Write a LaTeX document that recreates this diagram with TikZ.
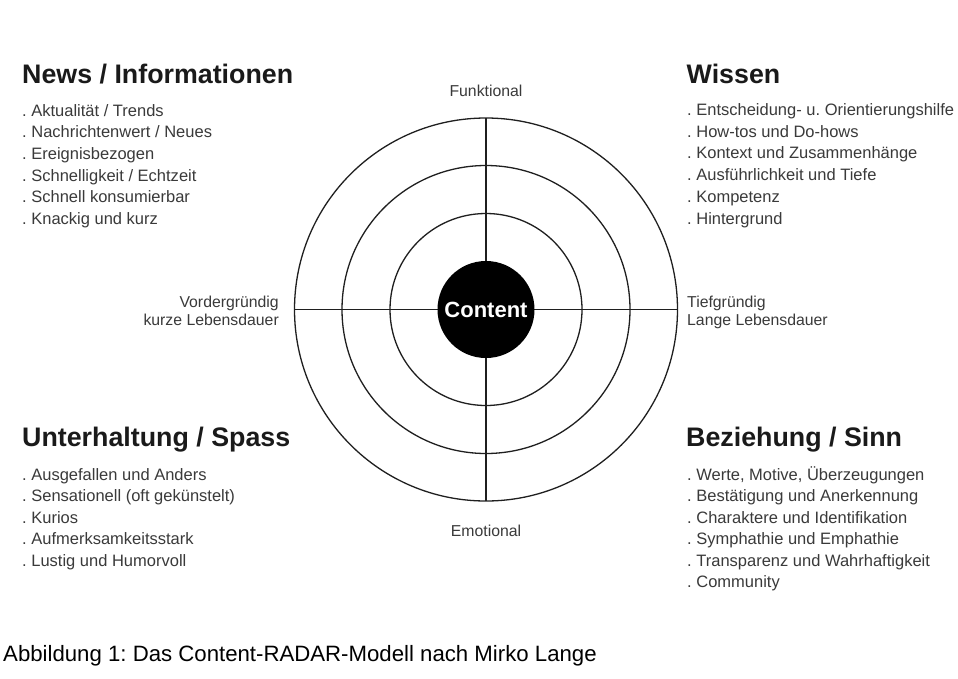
\documentclass[tikz,border=0pt]{standalone}
\usepackage{fontspec}
\setmainfont{Liberation Sans}
\frenchspacing
\definecolor{headtext}{HTML}{1A1A1A}
\definecolor{bodytext}{HTML}{3A3A3A}
\begin{document}
\begin{tikzpicture}[x=1pt,y=-1pt,
  heading/.style={anchor=base west, inner sep=0pt, text=headtext,
    font=\fontsize{26.8}{30}\selectfont\bfseries},
  item/.style={anchor=base west, inner sep=0pt, text=bodytext,
    font=\fontsize{16.5}{19}\selectfont},
  axislabel/.style={inner sep=0pt, text=bodytext,
    font=\fontsize{15.8}{19}\selectfont},
  ring/.style={circle, draw=black!88, line width=1.3pt, outer sep=0pt, inner sep=0pt},
  axis/.style={draw=black!88, line width=1.3pt}]
\useasboundingbox (0,0) rectangle (958,678);
\fill[white] (0,0) rectangle (958,678);

% radar rings and axes
\coordinate (c) at (486,309.5);
\node[ring, minimum size=383pt] (outer) at (c) {};
\node[ring, minimum size=288pt] (middle) at (c) {};
\node[ring, minimum size=192pt] (inner) at (c) {};
\draw[axis] (outer.north) -- (outer.south);
\draw[axis] (outer.west) -- (outer.east);
\node[circle, fill=black, minimum size=97pt, inner sep=0pt, text=white,
  font=\fontsize{22}{26}\selectfont\bfseries] (content) at (c) {Content};

% axis labels
\node[axislabel, anchor=base] (funk) at (486,96) {Funktional};
\node[axislabel, anchor=base] (emo) at (486,536) {Emotional};
\node[axislabel, anchor=base east] (vord1) at (279,307) {Vordergründig};
\node[axislabel, anchor=base east] (vord2) at (279,325.7) {kurze Lebensdauer};
\node[axislabel, anchor=base west] (tief1) at (687,307) {Tiefgründig};
\node[axislabel, anchor=base west] (tief2) at (687,325.7) {Lange Lebensdauer};

% News / Informationen
\node[heading] (nwhead) at (22,83) {News / Informationen};
\foreach \t [count=\i from 0] in {Aktualität / Trends, Nachrichtenwert / Neues,
    Ereignisbezogen, Schnelligkeit / Echtzeit, Schnell konsumierbar, Knackig und kurz}
  \node[item] (nw\i) at (22,116+21.7*\i) {. \t};

% Wissen
\node[heading] (nehead) at (686.5,83) {Wissen};
\foreach \t [count=\i from 0] in {Entscheidung- u. Orientierungshilfe, How-tos und Do-hows,
    Kontext und Zusammenhänge, Ausführlichkeit und Tiefe, Kompetenz, Hintergrund}
  \node[item] (ne\i) at (687,115.5+21.7*\i) {. \t};

% Unterhaltung / Spass
\node[heading] (swhead) at (22,446.7) {Unterhaltung / Spass};
\foreach \t [count=\i from 0] in {Ausgefallen und Anders, Sensationell (oft gekünstelt),
    Kurios, Aufmerksamkeitsstark, Lustig und Humorvoll}
  \node[item] (sw\i) at (22,480+21.6*\i) {. \t};

% Beziehung / Sinn
\node[heading] (sehead) at (686,446.7) {Beziehung / Sinn};
\foreach \t [count=\i from 0] in {{Werte, Motive, Überzeugungen}, Bestätigung und Anerkennung,
    Charaktere und Identifikation, Symphathie und Emphathie,
    Transparenz und Wahrhaftigkeit, Community}
  \node[item] (se\i) at (687,480.5+21.4*\i) {. \t};

% caption
\node[anchor=base west, inner sep=0pt, text=black, font=\fontsize{22.2}{26}\selectfont]
  (caption) at (3,661) {Abbildung 1: Das Content-RADAR-Modell nach Mirko Lange};
\end{tikzpicture}
\end{document}
